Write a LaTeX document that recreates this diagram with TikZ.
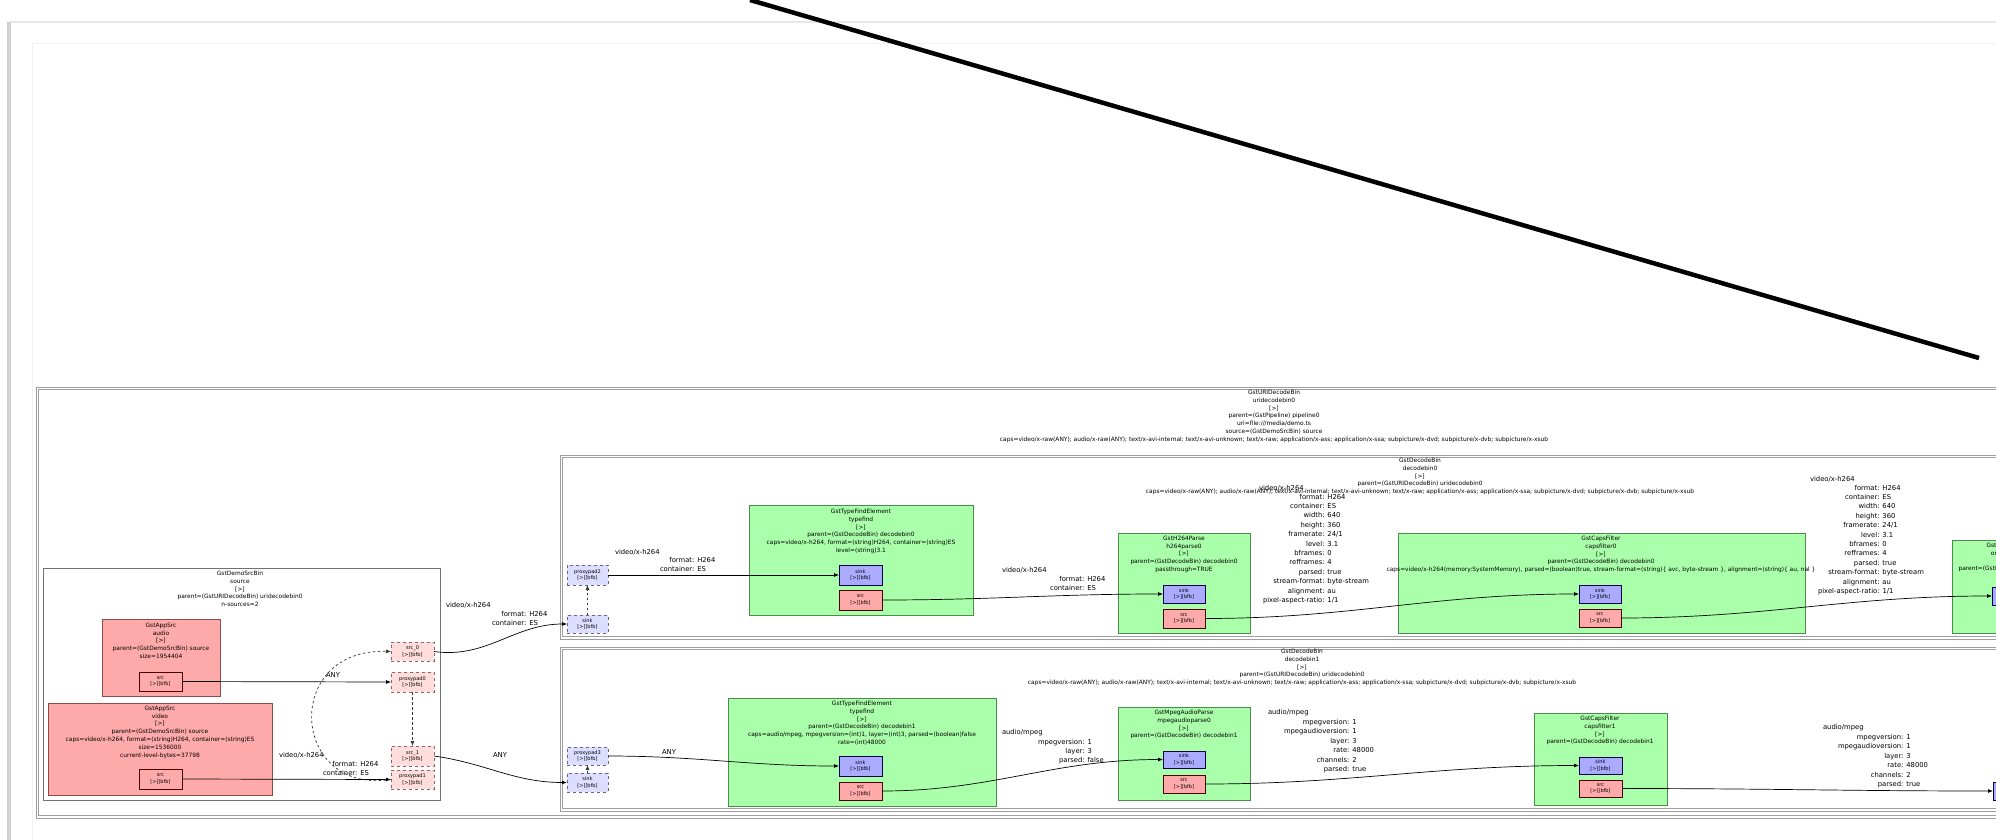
\documentclass[tikz,border=0pt]{standalone}
\usepackage{fontspec}
\setmainfont{DejaVu Sans}
\usetikzlibrary{arrows.meta,calc}
\newcommand\ttlfont{\fontsize{5.9}{7.8}\selectfont}
\newcommand\lblfont{\fontsize{6.8}{9.4}\selectfont}
\newcommand\padfont{\fontsize{5}{6.4}\selectfont}
\definecolor{elG}{HTML}{AAFFAA}
\definecolor{elR}{HTML}{FFAAAA}
\definecolor{padB}{HTML}{AAAAFF}
\definecolor{padR}{HTML}{FFAAAA}
\definecolor{gpadB}{HTML}{DDDDFF}
\definecolor{gpadR}{HTML}{FFDDDD}
\tikzset{
 every node/.style={outer sep=0pt},
 binbox/.style={anchor=north west, inner sep=0pt},
 binedge/.style={draw=black!38, line width=1pt},
 srcbinbox/.style={draw=black!55, line width=0.8pt, anchor=north west, inner sep=0pt},
 elgreen/.style={draw=green!35!black!70, fill=elG, line width=0.6pt, anchor=north west, inner sep=0pt},
 elred/.style={draw=red!35!black!70, fill=elR, line width=0.6pt, anchor=north west, inner sep=0pt},
 padsink/.style={draw=blue!30!black, fill=padB, line width=0.7pt, anchor=north west, inner sep=0pt, font=\padfont, align=center},
 padsrc/.style={draw=red!30!black, fill=padR, line width=0.7pt, anchor=north west, inner sep=0pt, font=\padfont, align=center},
 gpadsink/.style={draw=blue!25!black!60, fill=gpadB, dashed, line width=0.5pt, anchor=north west, inner sep=0pt, font=\padfont, align=center},
 gpadsrc/.style={draw=red!25!black!60, fill=gpadR, dashed, line width=0.5pt, anchor=north west, inner sep=0pt, font=\padfont, align=center},
 ttl/.style={font=\ttlfont, align=center, anchor=north, inner sep=0pt},
 lblhead/.style={font=\lblfont, anchor=west, inner sep=0pt},
 lblc/.style={font=\lblfont, anchor=center, inner sep=0pt},
 lblbody/.style={font=\lblfont, anchor=north west, inner sep=0pt},
 edge/.style={draw=black, line width=0.7pt, -{Latex[length=5pt,width=4pt]}},
 glink/.style={draw=black!80, line width=0.7pt, dash pattern=on 2.5pt off 2.5pt, -{Latex[length=5pt,width=4pt]}},
}
\newcommand\bindraw[1]{%
  \draw[binedge] (#1.north west) rectangle (#1.south east);
  \draw[binedge] ($(#1.north west)+(2.6,2.6)$) rectangle ($(#1.south east)+(-2.6,-2.6)$);}
\begin{document}
\begin{tikzpicture}[x=1pt,y=-1pt]
\useasboundingbox (0,0) rectangle (1996,840);
\fill[white] (0,0) rectangle (1996,840);
% page frame
\draw[black!9, line width=2pt] (9,22) -- (1996,22);
\draw[black!18, line width=3.5pt] (9,22) -- (9,840);
\draw[black!5, line width=1pt] (32,840) -- (32,44) -- (1996,44);
% annotation stroke
\coordinate (strokeA) at (750,0);
\coordinate (strokeB) at (1979,358);
\draw[black, line width=4.5pt] (strokeA) -- (strokeB);

% ---------------- uridecodebin ----------------
\node[binbox, minimum width=2300, minimum height=431] (uri) at (36,387) {};
\bindraw{uri}
\node[ttl] (uri-t) at (1274,390) {GstURIDecodeBin\\uridecodebin0\\{[>]}\\parent=(GstPipeline) pipeline0\\uri=file:///media/demo.ts\\source=(GstDemoSrcBin) source\\caps=video/x-raw(ANY); audio/x-raw(ANY); text/x-avi-internal; text/x-avi-unknown; text/x-raw; application/x-ass; application/x-ssa; subpicture/x-dvd; subpicture/x-dvb; subpicture/x-xsub};

% ---------------- source bin ----------------
\node[srcbinbox, minimum width=397, minimum height=232] (srcbin) at (43,568) {};
\node[ttl] (srcbin-t) at (240,571) {GstDemoSrcBin\\source\\{[>]}\\parent=(GstURIDecodeBin) uridecodebin0\\n-sources=2};

\node[elred, minimum width=118, minimum height=77] (asrc) at (102,619) {};
\node[ttl] (asrc-t) at (161,623) {GstAppSrc\\audio\\{[>]}\\parent=(GstDemoSrcBin) source\\size=1954404};
\node[padsrc, minimum width=43, minimum height=19] (asrcpad) at (139,672) {src\\{[>][bfb]}};

\node[elred, minimum width=224, minimum height=92] (vsrc) at (48,703) {};
\node[ttl] (vsrc-t) at (160,706) {GstAppSrc\\video\\{[>]}\\parent=(GstDemoSrcBin) source\\caps=video/x-h264, format=(string)H264, container=(string)ES\\size=1536000\\current-level-bytes=37798};
\node[padsrc, minimum width=43, minimum height=20] (vsrcpad) at (139,769) {src\\{[>][bfb]}};

\node[gpadsrc, minimum width=43, minimum height=19] (gsrc0) at (391,642) {src\_0\\{[>][bfb]}};
\node[gpadsrc, minimum width=43, minimum height=20] (pp0) at (391,672) {proxypad0\\{[>][bfb]}};
\node[gpadsrc, minimum width=43, minimum height=20] (gsrc1) at (391,746) {src\_1\\{[>][bfb]}};
\node[gpadsrc, minimum width=43, minimum height=19] (pp1) at (391,770) {proxypad1\\{[>][bfb]}};

\draw[edge] (asrcpad.east) -- (pp0.west);
\node[lblc] (l-a) at (333,675) {ANY};
\draw[edge] (vsrcpad.east) -- (pp1.west);
\node[lblhead] (l-v-h) at (279,755) {video/x-h264};
\node[lblbody] (l-v-b) at (323,759.5) {\begin{tabular}{@{}r@{: }l@{}}format&H264\\container&ES\end{tabular}};
\draw[glink] (pp0.south) -- (gsrc1.north);
\draw[glink] (pp1.west) .. controls (290,795) and (282,648) .. (gsrc0.west);

% ---------------- decodebin0 ----------------
\node[binbox, minimum width=1800, minimum height=184] (db0) at (560,455) {};
\bindraw{db0}
\node[ttl] (db0-t) at (1420,458) {GstDecodeBin\\decodebin0\\{[>]}\\parent=(GstURIDecodeBin) uridecodebin0\\caps=video/x-raw(ANY); audio/x-raw(ANY); text/x-avi-internal; text/x-avi-unknown; text/x-raw; application/x-ass; application/x-ssa; subpicture/x-dvd; subpicture/x-dvb; subpicture/x-xsub};
\node[gpadsink, minimum width=41, minimum height=20] (pp2) at (567,565) {proxypad2\\{[>][bfb]}};
\node[gpadsink, minimum width=41, minimum height=18] (gsink0) at (567,615) {sink\\{[>][bfb]}};
\draw[glink] (gsink0.north) -- (pp2.south);

\node[elgreen, minimum width=224, minimum height=110] (tf0) at (749,505) {};
\node[ttl] (tf0-t) at (861,509) {GstTypeFindElement\\typefind\\{[>]}\\parent=(GstDecodeBin) decodebin0\\caps=video/x-h264, format=(string)H264, container=(string)ES\\level=(string)3.1};
\node[padsink, minimum width=43, minimum height=20] (tf0sink) at (839,565) {sink\\{[>][bfb]}};
\node[padsrc, minimum width=43, minimum height=20] (tf0src) at (839,590) {src\\{[>][bfb]}};

\node[elgreen, minimum width=132, minimum height=100] (hp0) at (1118,533) {};
\node[ttl] (hp0-t) at (1184,536) {GstH264Parse\\h264parse0\\{[>]}\\parent=(GstDecodeBin) decodebin0\\passthrough=TRUE};
\node[padsink, minimum width=42, minimum height=18] (hp0sink) at (1163,585) {sink\\{[>][bfb]}};
\node[padsrc, minimum width=42, minimum height=19] (hp0src) at (1163,609) {src\\{[>][bfb]}};

\node[elgreen, minimum width=407, minimum height=100] (cf0) at (1398,533) {};
\node[ttl] (cf0-t) at (1601,536) {GstCapsFilter\\capsfilter0\\{[>]}\\parent=(GstDecodeBin) decodebin0\\caps=video/x-h264(memory:SystemMemory), parsed=(boolean)true, stream-format=(string)\{ avc, byte-stream \}, alignment=(string)\{ au, nal \}};
\node[padsink, minimum width=42, minimum height=18] (cf0sink) at (1579,585) {sink\\{[>][bfb]}};
\node[padsrc, minimum width=42, minimum height=18] (cf0src) at (1579,609) {src\\{[>][bfb]}};

\node[elgreen, minimum width=120, minimum height=93] (nx0) at (1952,540) {};
\node[ttl] (nx0-t) at (2012,543) {GstOmxH264Dec\\omxh264dec0\\{[>]}\\parent=(GstDecodeBin) decodebin0};
\node[padsink, minimum width=42, minimum height=18] (nx0sink) at (1992,587) {sink\\{[>][bfb]}};

\draw[edge] (pp2.east) -- (tf0sink.west);
\node[lblhead] (l1-h) at (615,552) {video/x-h264};
\node[lblbody] (l1-b) at (660,555.5) {\begin{tabular}{@{}r@{: }l@{}}format&H264\\container&ES\end{tabular}};
\draw[edge] (tf0src.east) to[out=0,in=180] (hp0sink.west);
\node[lblhead] (l2-h) at (1002,570) {video/x-h264};
\node[lblbody] (l2-b) at (1050,574.5) {\begin{tabular}{@{}r@{: }l@{}}format&H264\\container&ES\end{tabular}};
\draw[edge] (hp0src.east) to[out=0,in=180] (cf0sink.west);
\node[lblhead] (l3-h) at (1259,488) {video/x-h264};
\node[lblbody] (l3-b) at (1263,492.5) {\begin{tabular}{@{}r@{: }l@{}}format&H264\\container&ES\\width&640\\height&360\\framerate&24/1\\level&3.1\\bframes&0\\refframes&4\\parsed&true\\stream-format&byte-stream\\alignment&au\\pixel-aspect-ratio&1/1\end{tabular}};
\draw[edge] (cf0src.east) to[out=0,in=180] (nx0sink.west);
\node[lblhead] (l4-h) at (1810,479) {video/x-h264};
\node[lblbody] (l4-b) at (1818,483.5) {\begin{tabular}{@{}r@{: }l@{}}format&H264\\container&ES\\width&640\\height&360\\framerate&24/1\\level&3.1\\bframes&0\\refframes&4\\parsed&true\\stream-format&byte-stream\\alignment&au\\pixel-aspect-ratio&1/1\end{tabular}};

% ---------------- decodebin1 ----------------
\node[binbox, minimum width=1800, minimum height=164] (db1) at (560,647) {};
\bindraw{db1}
\node[ttl] (db1-t) at (1302,649) {GstDecodeBin\\decodebin1\\{[>]}\\parent=(GstURIDecodeBin) uridecodebin0\\caps=video/x-raw(ANY); audio/x-raw(ANY); text/x-avi-internal; text/x-avi-unknown; text/x-raw; application/x-ass; application/x-ssa; subpicture/x-dvd; subpicture/x-dvb; subpicture/x-xsub};
\node[gpadsink, minimum width=41, minimum height=18] (pp3) at (567,747) {proxypad3\\{[>][bfb]}};
\node[gpadsink, minimum width=41, minimum height=19] (gsink1) at (567,773) {sink\\{[>][bfb]}};
\draw[glink] (gsink1.north) -- (pp3.south);

\node[elgreen, minimum width=268, minimum height=108] (tf1) at (728,698) {};
\node[ttl] (tf1-t) at (862,701) {GstTypeFindElement\\typefind\\{[>]}\\parent=(GstDecodeBin) decodebin1\\caps=audio/mpeg, mpegversion=(int)1, layer=(int)3, parsed=(boolean)false\\rate=(int)48000};
\node[padsink, minimum width=43, minimum height=20] (tf1sink) at (839,756) {sink\\{[>][bfb]}};
\node[padsrc, minimum width=43, minimum height=18] (tf1src) at (839,782) {src\\{[>][bfb]}};

\node[elgreen, minimum width=132, minimum height=93] (mp0) at (1118,707) {};
\node[ttl] (mp0-t) at (1184,710) {GstMpegAudioParse\\mpegaudioparse0\\{[>]}\\parent=(GstDecodeBin) decodebin1};
\node[padsink, minimum width=42, minimum height=17] (mp0sink) at (1163,751) {sink\\{[>][bfb]}};
\node[padsrc, minimum width=42, minimum height=18] (mp0src) at (1163,775) {src\\{[>][bfb]}};

\node[elgreen, minimum width=133, minimum height=92] (cf1) at (1534,713) {};
\node[ttl] (cf1-t) at (1600,716) {GstCapsFilter\\capsfilter1\\{[>]}\\parent=(GstDecodeBin) decodebin1};
\node[padsink, minimum width=43, minimum height=17] (cf1sink) at (1579,757) {sink\\{[>][bfb]}};
\node[padsrc, minimum width=43, minimum height=17] (cf1src) at (1579,780) {src\\{[>][bfb]}};

\node[padsink, minimum width=42, minimum height=18] (nx1sink) at (1993,782) {sink\\{[>][bfb]}};

\draw[edge] (pp3.east) to[out=0,in=180] (tf1sink.west);
\node[lblc] (l5) at (669,752) {ANY};
\draw[edge] (tf1src.east) to[out=0,in=180] (mp0sink.west);
\node[lblhead] (l6-h) at (1002,733) {audio/mpeg};
\node[lblbody] (l6-b) at (1038,737.5) {\begin{tabular}{@{}r@{: }l@{}}mpegversion&1\\layer&3\\parsed&false\end{tabular}};
\draw[edge] (mp0src.east) to[out=0,in=180] (cf1sink.west);
\node[lblhead] (l7-h) at (1268,713) {audio/mpeg};
\node[lblbody] (l7-b) at (1284,718) {\begin{tabular}{@{}r@{: }l@{}}mpegversion&1\\mpegaudioversion&1\\layer&3\\rate&48000\\channels&2\\parsed&true\end{tabular}};
\draw[edge] (cf1src.east) to[out=0,in=180] (nx1sink.west);
\node[lblhead] (l8-h) at (1823,728) {audio/mpeg};
\node[lblbody] (l8-b) at (1838,733) {\begin{tabular}{@{}r@{: }l@{}}mpegversion&1\\mpegaudioversion&1\\layer&3\\rate&48000\\channels&2\\parsed&true\end{tabular}};

% ---------------- cross-bin links ----------------
\draw[edge] (gsrc0.east) to[out=-8,in=180] (gsink0.west);
\node[lblhead] (l9-h) at (446,605) {video/x-h264};
\node[lblbody] (l9-b) at (492,609.5) {\begin{tabular}{@{}r@{: }l@{}}format&H264\\container&ES\end{tabular}};
\draw[edge] (gsrc1.east) to[out=-8,in=180] (gsink1.west);
\node[lblc] (l10) at (500,755) {ANY};
\end{tikzpicture}
\end{document}
